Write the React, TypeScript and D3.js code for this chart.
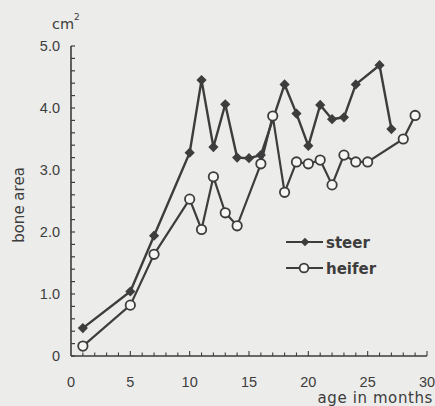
import { useEffect, useRef } from "react"
import * as d3 from "d3"

const steerMonths = [1, 5, 7, 10, 11, 12, 13, 14, 15, 16, 18, 19, 20, 21, 22, 23, 24, 26, 27]
const steerArea = [0.45, 1.04, 1.94, 3.28, 4.45, 3.37, 4.06, 3.2, 3.19, 3.24, 4.38, 3.91, 3.39, 4.05, 3.82, 3.85, 4.38, 4.69, 3.66]

const heiferMonths = [1, 5, 7, 10, 11, 12, 13, 14, 16, 17, 18, 19, 20, 21, 22, 23, 24, 25, 28, 29]
const heiferArea = [0.16, 0.82, 1.64, 2.53, 2.04, 2.89, 2.31, 2.1, 3.1, 3.87, 2.64, 3.13, 3.1, 3.16, 2.76, 3.24, 3.13, 3.13, 3.5, 3.88]

const yTickLabels = ["0", "1.0", "2.0", "3.0", "4.0", "5.0"]
const xTickLabels = ["0", "5", "10", "15", "20", "25", "30"]

const W = 435
const H = 406
const ink = "#3d3d3d"
const numFont = "'Liberation Sans', Arial, sans-serif"
const wordFont = "'DejaVu Sans', sans-serif"

const App = () => {
    const ref = useRef<SVGSVGElement>(null)

    useEffect(() => {
        document.body.style.margin = "0"
        const svg = d3.select(ref.current)
        svg.selectAll("*").remove()

        const x = d3.scaleLinear().domain([0, 30]).range([71, 427])
        const y = d3.scaleLinear().domain([0, 5]).range([356, 46])

        svg.append("rect").attr("width", W).attr("height", H).attr("fill", "#ececea")

        // y axis, inward ticks every 0.2
        svg.append("line")
            .attr("x1", x(0)).attr("x2", x(0))
            .attr("y1", y(5)).attr("y2", y(0))
            .attr("stroke", ink).attr("stroke-width", 1.6)
        svg.selectAll(".ytick")
            .data(d3.range(0, 26).map(i => i * 0.2))
            .join("line")
            .attr("class", "ytick")
            .attr("x1", x(0)).attr("x2", x(0) + 4)
            .attr("y1", d => y(d)).attr("y2", d => y(d))
            .attr("stroke", ink).attr("stroke-width", 1.2)

        svg.selectAll(".ylab")
            .data(yTickLabels)
            .join("text")
            .attr("class", "ylab")
            .attr("x", 60)
            .attr("y", (_, i) => y(i) + 5)
            .attr("text-anchor", "end")
            .attr("font-family", numFont)
            .attr("font-size", 14.5)
            .attr("fill", ink)
            .text(d => d)

        // x axis, inward ticks every month
        svg.append("line")
            .attr("x1", x(0)).attr("x2", x(30))
            .attr("y1", y(0)).attr("y2", y(0))
            .attr("stroke", ink).attr("stroke-width", 1.6)
        svg.selectAll(".xtick")
            .data(d3.range(1, 31))
            .join("line")
            .attr("class", "xtick")
            .attr("x1", d => x(d)).attr("x2", d => x(d))
            .attr("y1", y(0)).attr("y2", d => y(0) - (d % 5 === 0 ? 5 : 3.5))
            .attr("stroke", ink).attr("stroke-width", 1.1)

        svg.selectAll(".xlab")
            .data(xTickLabels)
            .join("text")
            .attr("class", "xlab")
            .attr("x", (_, i) => x(i * 5))
            .attr("y", 387)
            .attr("text-anchor", "middle")
            .attr("font-family", numFont)
            .attr("font-size", 14.5)
            .attr("fill", ink)
            .text(d => d)

        svg.append("text")
            .attr("x", 433).attr("y", 403)
            .attr("text-anchor", "end")
            .attr("font-family", wordFont)
            .attr("font-size", 15)
            .attr("letter-spacing", 0.6)
            .attr("fill", ink)
            .text("age in months")

        const unit = svg.append("text")
            .attr("x", 52).attr("y", 29)
            .attr("font-family", wordFont)
            .attr("font-size", 14.5)
            .attr("fill", ink)
        unit.append("tspan").text("cm")
        unit.append("tspan").attr("dy", -9).attr("font-size", 9).text("2")

        svg.append("text")
            .attr("transform", "translate(24,205) rotate(-90)")
            .attr("text-anchor", "middle")
            .attr("font-family", wordFont)
            .attr("font-size", 15)
            .attr("fill", ink)
            .text("bone area")

        const line = d3.line<[number, number]>()
            .x(d => x(d[0]))
            .y(d => y(d[1]))

        const steer: [number, number][] = steerMonths.map((m, i) => [m, steerArea[i]])
        const heifer: [number, number][] = heiferMonths.map((m, i) => [m, heiferArea[i]])

        svg.append("path")
            .attr("d", line(steer))
            .attr("fill", "none").attr("stroke", ink).attr("stroke-width", 2.4)
        svg.append("path")
            .attr("d", line(heifer))
            .attr("fill", "none").attr("stroke", ink).attr("stroke-width", 2.2)

        const square = d3.symbol().type(d3.symbolSquare).size(52)()
        svg.selectAll(".steer")
            .data(steer)
            .join("path")
            .attr("class", "steer")
            .attr("d", square)
            .attr("transform", d => `translate(${x(d[0])},${y(d[1])}) rotate(45)`)
            .attr("fill", ink)

        svg.selectAll(".heifer")
            .data(heifer)
            .join("circle")
            .attr("class", "heifer")
            .attr("cx", d => x(d[0])).attr("cy", d => y(d[1]))
            .attr("r", 4.7)
            .attr("fill", "#f6f6f4").attr("stroke", ink).attr("stroke-width", 1.8)

        // legend
        const legend = [
            { name: "steer", filled: true, yy: 242 },
            { name: "heifer", filled: false, yy: 268 },
        ]
        legend.forEach(l => {
            svg.append("line")
                .attr("x1", 286).attr("x2", 323)
                .attr("y1", l.yy).attr("y2", l.yy)
                .attr("stroke", ink).attr("stroke-width", 2.2)
            if (l.filled) {
                svg.append("path")
                    .attr("d", d3.symbol().type(d3.symbolSquare).size(38)())
                    .attr("transform", `translate(305,${l.yy}) rotate(45)`)
                    .attr("fill", ink)
            } else {
                svg.append("circle")
                    .attr("cx", 304).attr("cy", l.yy).attr("r", 4.4)
                    .attr("fill", "#f6f6f4").attr("stroke", ink).attr("stroke-width", 1.8)
            }
            svg.append("text")
                .attr("x", 326).attr("y", l.yy + 6)
                .attr("font-family", wordFont)
                .attr("font-size", 15)
                .attr("font-weight", "bold")
                .attr("fill", ink)
                .text(l.name)
        })
    }, [])

    return <svg ref={ref} width={W} height={H} style={{ display: "block" }} />
}

export default App
